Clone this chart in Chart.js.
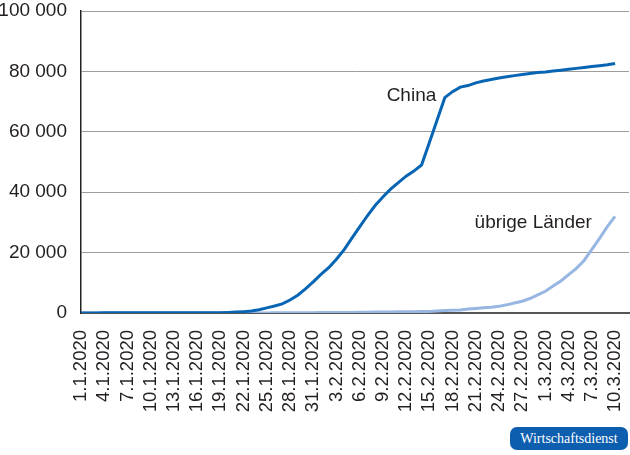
<!DOCTYPE html>
<html lang="de">
<head>
<meta charset="utf-8">
<script src="https://cdn.jsdelivr.net/npm/chart.js@4/dist/chart.umd.min.js"></script>
<style>
  html, body { margin: 0; padding: 0; background: #fff; }
  #wrap { position: relative; width: 630px; height: 455px; }
  #badge {
    position: absolute; left: 510px; top: 427px; width: 118px; height: 23px;
    background: #0d5eae; border-radius: 7px; color: #fff;
    font: 14px "Liberation Serif", "DejaVu Serif", serif; line-height: 23px; text-align: center;
  }
</style>
</head>
<body>
<div id="wrap">
  <canvas id="chart" width="630" height="455"></canvas>
  <div id="badge">Wirtschaftsdienst</div>
</div>
<script>
// Tage 1.1.2020 - 10.3.2020
const dates = [
  '1.1.2020','2.1.2020','3.1.2020','4.1.2020','5.1.2020','6.1.2020','7.1.2020','8.1.2020','9.1.2020','10.1.2020',
  '11.1.2020','12.1.2020','13.1.2020','14.1.2020','15.1.2020','16.1.2020','17.1.2020','18.1.2020','19.1.2020','20.1.2020',
  '21.1.2020','22.1.2020','23.1.2020','24.1.2020','25.1.2020','26.1.2020','27.1.2020','28.1.2020','29.1.2020','30.1.2020',
  '31.1.2020','1.2.2020','2.2.2020','3.2.2020','4.2.2020','5.2.2020','6.2.2020','7.2.2020','8.2.2020','9.2.2020',
  '10.2.2020','11.2.2020','12.2.2020','13.2.2020','14.2.2020','15.2.2020','16.2.2020','17.2.2020','18.2.2020','19.2.2020',
  '20.2.2020','21.2.2020','22.2.2020','23.2.2020','24.2.2020','25.2.2020','26.2.2020','27.2.2020','28.2.2020','29.2.2020',
  '1.3.2020','2.3.2020','3.3.2020','4.3.2020','5.3.2020','6.3.2020','7.3.2020','8.3.2020','9.3.2020','10.3.2020'
];

// nur jeder dritte Tag wird beschriftet
const tickDays = [0, 3, 6, 9, 12, 15, 18, 21, 24, 27, 30, 33, 36, 39, 42, 45, 48, 51, 54, 57, 60, 63, 66, 69];

// Bestätigte Fälle (kumuliert)
const china = [
  27, 27, 27, 44, 44, 59, 59, 59, 59, 59,
  59, 59, 59, 59, 59, 59, 59, 62, 121, 200,
  300, 450, 650, 1100, 1700, 2300, 3000, 4300, 5900, 8000,
  10300, 12800, 15000, 17800, 21000, 24800, 28500, 32200, 35600, 38400,
  41000, 43200, 45300, 47000, 49000, 56400, 63800, 71300, 73300, 74800,
  75300, 76200, 76800, 77300, 77800, 78200, 78600, 79000, 79300, 79600,
  79800, 80100, 80400, 80700, 81000, 81300, 81600, 81900, 82200, 82600
];

const others = [
  0, 0, 0, 0, 0, 0, 0, 0, 0, 0,
  0, 0, 1, 1, 2, 3, 4, 5, 6, 7,
  10, 14, 25, 30, 40, 56, 60, 80, 90, 100,
  115, 130, 150, 160, 180, 200, 220, 270, 290, 310,
  320, 390, 440, 450, 510, 530, 690, 800, 900, 1000,
  1300, 1500, 1700, 1900, 2200, 2700, 3300, 3900, 4800, 6000,
  7200, 8900, 10600, 12700, 14800, 17400, 21100, 24700, 28600, 32000
];

const yTicks = [0, 20000, 40000, 60000, 80000, 100000];

const FONT = '"Liberation Sans", Arial, Helvetica, sans-serif';
const TEXT = '#231f20';

const toPoints = (arr) => arr.map((v, i) => ({ x: i, y: v }));
const fmt = (v) => String(v).replace(/\B(?=(\d{3})+(?!\d))/g, ' ');

// Beschriftungen direkt an den Linien
const lineLabels = {
  id: 'lineLabels',
  afterDatasetsDraw(chart) {
    const { ctx, scales: { x, y } } = chart;
    const items = [
      { text: 'China', x: 45.9, y: 72000 },
      { text: 'übrige Länder', x: 66.0, y: 29900 }
    ];
    ctx.save();
    ctx.font = '19px ' + FONT;
    ctx.fillStyle = TEXT;
    ctx.textAlign = 'right';
    ctx.textBaseline = 'middle';
    items.forEach(it => ctx.fillText(it.text, x.getPixelForValue(it.x), y.getPixelForValue(it.y)));
    ctx.restore();
  }
};

new Chart(document.getElementById('chart'), {
  type: 'line',
  data: {
    datasets: [
      {
        label: 'China',
        data: toPoints(china),
        borderColor: '#0865b3',
        borderWidth: 3,
        pointRadius: 0,
        tension: 0
      },
      {
        label: 'übrige Länder',
        data: toPoints(others),
        borderColor: '#98b6e2',
        borderWidth: 3,
        pointRadius: 0,
        tension: 0
      }
    ]
  },
  options: {
    responsive: false,
    animation: false,
    layout: { padding: { top: 11, right: 1, left: 0, bottom: 0 } },
    plugins: {
      legend: { display: false },
      tooltip: { enabled: false }
    },
    scales: {
      x: {
        type: 'linear',
        min: 0,
        max: 70.8,
        grid: { display: false, drawTicks: false },
        border: { display: true, color: '#555', width: 2 },
        afterBuildTicks: (scale) => { scale.ticks = tickDays.map(v => ({ value: v })); },
        afterFit: (scale) => {
          scale.height = 142;
          scale.paddingLeft = 0;
          scale.paddingRight = 0;
        },
        ticks: {
          autoSkip: false,
          minRotation: 90,
          maxRotation: 90,
          padding: 17,
          color: TEXT,
          font: { family: FONT, size: 18.5 },
          callback: (v) => dates[v]
        }
      },
      y: {
        min: 0,
        max: 100000,
        grid: { color: '#9d9d9d', lineWidth: 1, drawTicks: false },
        border: { display: true, color: '#222', width: 1.5 },
        afterBuildTicks: (scale) => { scale.ticks = yTicks.map(v => ({ value: v })); },
        afterFit: (scale) => {
          scale.width = 81;
          scale.paddingTop = 0;
          scale.paddingBottom = 0;
        },
        ticks: {
          padding: 14,
          color: TEXT,
          font: { family: FONT, size: 19 },
          callback: (v) => fmt(v)
        }
      }
    }
  },
  plugins: [lineLabels]
});
</script>
</body>
</html>
